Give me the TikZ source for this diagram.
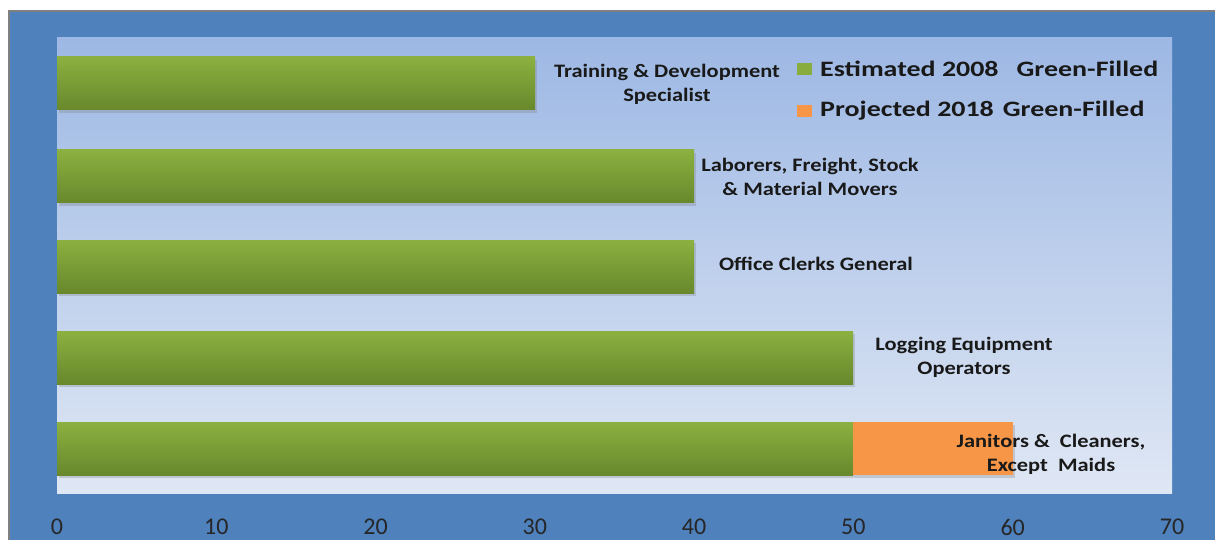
\documentclass[tikz,border=0pt]{standalone}
\usepackage{fontspec}
\setmainfont{Carlito}
\newfontfamily\lblfont[FakeStretch=1.18]{Carlito}
\newfontfamily\legfont[FakeStretch=1.27]{Carlito}
\usetikzlibrary{shadows}
\definecolor{chartblue}{RGB}{79,129,189}
\definecolor{plottop}{RGB}{157,184,228}
\definecolor{plotlow}{RGB}{223,231,244}
\definecolor{barhi}{RGB}{140,176,64}
\definecolor{barlo}{RGB}{104,136,44}
\definecolor{baror}{RGB}{247,150,70}
\tikzset{
	bar/.style={top color=barhi, bottom color=barlo, drop shadow={opacity=.3, shadow xshift=2pt, shadow yshift=-3pt}},
	lbl/.style={align=center, font=\lblfont\bfseries\fontsize{19}{24}\selectfont, text=black!90, inner sep=0pt},
	leg/.style={anchor=west, font=\legfont\bfseries\fontsize{22}{24}\selectfont, text=black!90, inner sep=0pt},
	tick/.style={font=\fontsize{24}{26}\selectfont, text=black!85, inner sep=0pt}
}
\begin{document}
\begin{tikzpicture}[x=1pt, y=-1pt]
	\useasboundingbox (0,0) rectangle (1215,540);
	% frame and plot area
	\fill[white]       (0,0)   rectangle (1215,540);
	\fill[black!50]    (8,10)  rectangle (1215,540);
	\fill[chartblue]   (10,12) rectangle (1215,540);
	\shade[top color=plottop, bottom color=plotlow] (57,38) rectangle (1172,493);
	% bars
	\shade[bar]   (57,57)  rectangle (535,110);
	\shade[bar]   (57,150) rectangle (694,203);
	\shade[bar]   (57,240) rectangle (694,293);
	\shade[bar]   (57,331) rectangle (853,384);
	\shade[bar]   (57,422) rectangle (853,475);
	\fill[baror, drop shadow={opacity=.3, shadow xshift=2pt, shadow yshift=-3pt}] (853,422) rectangle (1013,475);
	% category labels
	\node[lbl] (train)  at (667,84)  {Training \& Development\\Specialist};
	\node[lbl] (labor)  at (810,177) {Laborers, Freight, Stock\\\& Material Movers};
	\node[lbl] (office) at (816,264) {Office Clerks General};
	\node[lbl] (logger) at (964,357) {Logging Equipment\\Operators};
	\node[lbl] (janitr) at (1051,454) {Janitors \&\ \ Cleaners,\\Except\ \ Maids};
	% legend
	\fill[barhi!90!barlo] (797,63)  rectangle (812,75);
	\fill[baror]          (797,105) rectangle (812,117);
	\node[leg] (est)  at (820,69)  {Estimated 2008\hspace{18pt}Green-Filled};
	\node[leg] (proj) at (820,111) {Projected 2018\hspace{9pt}Green-Filled};
	% axis
	\node[tick] (t0) at (57,527)      {0};
	\node[tick] (t1) at (216.3,527)   {10};
	\node[tick] (t2) at (375.6,527)   {20};
	\node[tick] (t3) at (534.9,527)   {30};
	\node[tick] (t4) at (694.1,527)   {40};
	\node[tick] (t5) at (853.4,527)   {50};
	\node[tick] (t6) at (1012.7,527)  {60};
	\node[tick] (t7) at (1172,527)    {70};
\end{tikzpicture}
\end{document}
